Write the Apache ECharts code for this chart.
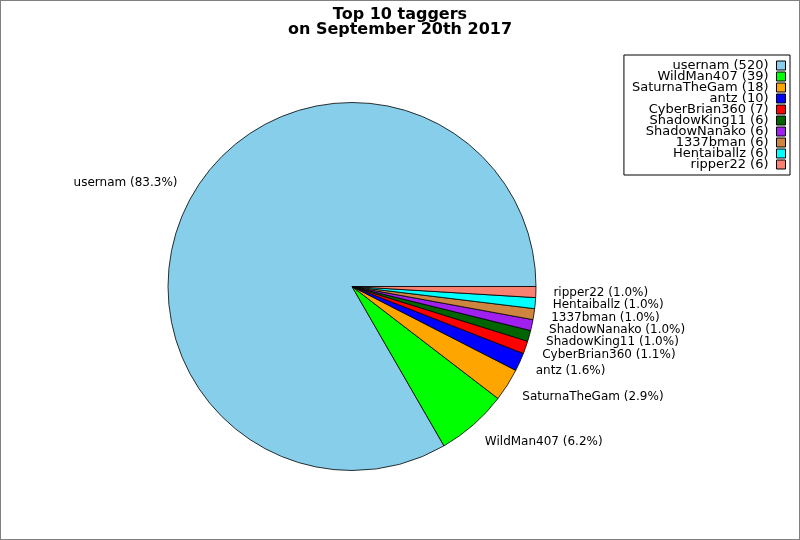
<!DOCTYPE html>
<html>
<head>
<meta charset="utf-8">
<script src="https://cdn.jsdelivr.net/npm/echarts@6/dist/echarts.min.js"></script>
<style>
html, body { margin: 0; padding: 0; background: #fff; }
#chart { width: 800px; height: 540px; box-sizing: border-box; border: 1px solid #808080; }
</style>
</head>
<body>
<div id="chart"></div>
<script>
const titleLines = ['Top 10 taggers', 'on September 20th 2017'];
const names = ['usernam', 'WildMan407', 'SaturnaTheGam', 'antz', 'CyberBrian360', 'ShadowKing11', 'ShadowNanako', '1337bman', 'Hentaiballz', 'ripper22'];
const counts = [520, 39, 18, 10, 7, 6, 6, 6, 6, 6];
const colors = ['#87CEEB', '#00FF00', '#FFA500', '#0000FF', '#FF0000', '#006400', '#A020F0', '#CD853F', '#00FFFF', '#FA8072'];

const total = counts.reduce((a, b) => a + b, 0);
function pct(v) {
  const x = v / total * 1000;
  let r = Math.floor(x);
  const f = x - r;
  if (Math.abs(f - 0.5) < 1e-9) { if (r % 2 === 1) r += 1; }
  else if (f > 0.5) r += 1;
  return (r / 10).toFixed(1);
}
const countByName = {};
names.forEach((n, i) => { countByName[n] = counts[i]; });

const FONT = 'DejaVu Sans';
const CY = 285.5;
const chart = echarts.init(document.getElementById('chart'), null, { renderer: 'canvas' });
chart.setOption({
  animation: false,
  title: {
    text: titleLines.join('\n'),
    left: 'center',
    top: 1,
    textStyle: { fontFamily: FONT, fontSize: 16, fontWeight: 'bold', color: '#000', lineHeight: 15 }
  },
  legend: {
    orient: 'vertical',
    right: 9,
    top: 54,
    align: 'right',
    icon: 'rect',
    itemWidth: 9,
    itemHeight: 9,
    itemGap: -2,
    padding: [4, 4, 4, 8],
    borderColor: '#000',
    borderWidth: 1,
    backgroundColor: '#fff',
    selectedMode: false,
    data: names,
    formatter: function (n) { return n + ' (' + countByName[n] + ')'; },
    textStyle: { fontFamily: FONT, fontSize: 13, color: '#000', lineHeight: 11, padding: [0, 3, 0, 0] },
    itemStyle: { borderColor: '#000', borderWidth: 1 }
  },
  series: [{
    type: 'pie',
    center: [351, CY],
    radius: 184,
    startAngle: 0,
    clockwise: false,
    avoidLabelOverlap: false,
    silent: true,
    emphasis: { disabled: true },
    itemStyle: { borderColor: '#000', borderWidth: 0.8 },
    label: {
      show: true,
      position: 'outside',
      fontFamily: FONT,
      fontSize: 12,
      color: '#000',
      distanceToLabelLine: 0,
      formatter: function (p) { return p.name + ' (' + pct(p.value) + '%)'; }
    },
    labelLine: { show: false, length: 17.5, length2: 0 },
    labelLayout: function (p) {
      const yc = p.labelRect.y + p.labelRect.height / 2;
      return { dy: (yc - CY) * 0.025 };
    },
    data: names.map((n, i) => ({ name: n, value: counts[i], itemStyle: { color: colors[i] } }))
  }]
});
</script>
</body>
</html>
